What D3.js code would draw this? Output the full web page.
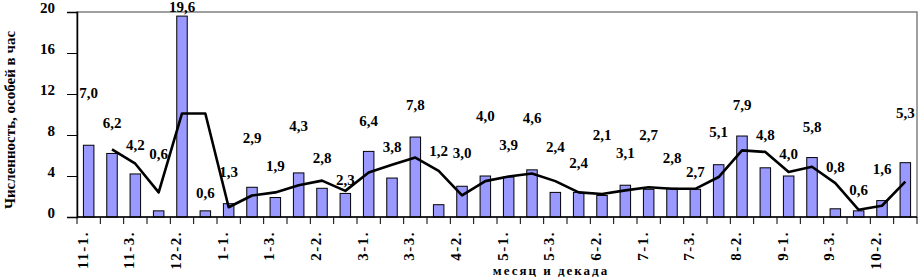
<!DOCTYPE html>
<html>
<head>
<meta charset="utf-8">
<script src="https://cdn.jsdelivr.net/npm/d3@7"></script>
<style>
  body { margin: 0; background: #fff; }
  text { font-family: "Liberation Serif", "Times New Roman", serif; font-weight: bold; fill: #000; }
</style>
</head>
<body>
<div id="chart"></div>
<script>
// decades of each month, Nov -> Oct
var categories = ["11-1", "11-2", "11-3", "12-1", "12-2", "12-3", "1-1", "1-2", "1-3",
  "2-1", "2-2", "2-3", "3-1", "3-2", "3-3", "4-1", "4-2", "4-3", "5-1", "5-2", "5-3",
  "6-1", "6-2", "6-3", "7-1", "7-2", "7-3", "8-1", "8-2", "8-3", "9-1", "9-2", "9-3",
  "10-1", "10-2", "10-3"];

var values = [7.0, 6.2, 4.2, 0.6, 19.6, 0.6, 1.3, 2.9, 1.9, 4.3, 2.8, 2.3, 6.4, 3.8, 7.8,
  1.2, 3.0, 4.0, 3.9, 4.6, 2.4, 2.4, 2.1, 3.1, 2.7, 2.8, 2.7, 5.1, 7.9, 4.8, 4.0, 5.8,
  0.8, 0.6, 1.6, 5.3];

// trend line (starts at the 2nd decade)
var trend = [null, 6.6, 5.2, 2.4, 10.1, 10.1, 0.95, 2.1, 2.4, 3.1, 3.55, 2.55, 4.35, 5.1,
  5.8, 4.5, 2.1, 3.5, 3.95, 4.25, 3.5, 2.4, 2.25, 2.6, 2.9, 2.75, 2.75, 3.9, 6.5, 6.35,
  4.4, 4.9, 3.3, 0.7, 1.1, 3.45];

// height (in axis units) where each value label sits
var labelLevel = [12.1, 9.2, 7.0, 6.1, 20.5, 2.3, 4.4, 7.7, 5.0, 8.9, 5.8, 3.6, 9.4, 6.8,
  10.9, 6.4, 6.2, 9.9, 7.0, 9.7, 6.8, 5.3, 8.0, 6.2, 8.0, 5.8, 4.4, 8.3, 10.9, 8.0, 6.1,
  8.8, 4.9, 2.6, 4.7, 10.1];

var yTicks = [0, 4, 8, 12, 16, 20];
var yTitle = "Численность, особей в час";
var xTitle = "месяц и декада";

(function () {
  var W = 919, H = 278;
  var pLeft = 77, pRight = 917, pTop = 12, pBottom = 217;

  var svg = d3.select("#chart").append("svg")
    .attr("width", W)
    .attr("height", H);

  var x = d3.scaleBand().domain(categories).range([pLeft, pRight])
    .paddingInner(0.55).paddingOuter(0.275);
  var step = (pRight - pLeft) / categories.length;
  var y = d3.scaleLinear().domain([0, 20]).range([pBottom, pTop]);

  function cx(i) { return x(categories[i]) + x.bandwidth() / 2; }

  // plot frame
  svg.append("rect")
    .attr("x", pLeft).attr("y", pTop)
    .attr("width", pRight - pLeft).attr("height", pBottom - pTop)
    .attr("fill", "none").attr("stroke", "#808080").attr("stroke-width", 1.5);

  // bars
  svg.selectAll("rect.bar").data(values).enter().append("rect")
    .attr("class", "bar")
    .attr("x", function (d, i) { return x(categories[i]); })
    .attr("y", function (d) { return y(d); })
    .attr("width", x.bandwidth())
    .attr("height", function (d) { return y(0) - y(d); })
    .attr("fill", "#9999ff")
    .attr("stroke", "#000")
    .attr("stroke-width", 1);

  // trend line
  var line = d3.line()
    .defined(function (d) { return d != null; })
    .x(function (d, i) { return cx(i); })
    .y(function (d) { return y(d); });

  svg.append("path")
    .datum(trend)
    .attr("d", line)
    .attr("fill", "none")
    .attr("stroke", "#000")
    .attr("stroke-width", 2.6)
    .attr("stroke-linejoin", "round");

  // value labels
  svg.selectAll("text.val").data(values).enter().append("text")
    .attr("class", "val")
    .attr("x", function (d, i) { return cx(i); })
    .attr("y", function (d, i) { return y(labelLevel[i]); })
    .attr("text-anchor", "middle")
    .attr("dominant-baseline", "central")
    .style("font-size", "15px")
    .text(function (d) { return d.toFixed(1).replace(".", ","); });

  // y axis
  var gY = svg.append("g")
    .attr("transform", "translate(" + pLeft + ",0)")
    .call(d3.axisLeft(y).tickValues(yTicks).tickSize(10).tickPadding(12));
  gY.select(".domain").attr("stroke", "#000").attr("stroke-width", 1.5);
  gY.selectAll(".tick line").attr("stroke", "#000");
  gY.selectAll(".tick text")
    .attr("dy", "0em")
    .style("font-size", "15px")
    .style("font-family", "'Liberation Serif', serif")
    .style("font-weight", "bold");

  // x axis: ticks at category boundaries
  var bounds = d3.range(categories.length + 1);
  svg.append("line")
    .attr("x1", pLeft).attr("x2", pRight)
    .attr("y1", pBottom).attr("y2", pBottom)
    .attr("stroke", "#000").attr("stroke-width", 1.5);
  svg.selectAll("line.xt").data(bounds).enter().append("line")
    .attr("class", "xt")
    .attr("x1", function (d) { return pLeft + d * step; })
    .attr("x2", function (d) { return pLeft + d * step; })
    .attr("y1", pBottom).attr("y2", pBottom + 7)
    .attr("stroke", "#000");

  svg.selectAll("text.xl").data(categories.filter(function (d, i) { return i % 2 === 0; }))
    .enter().append("text")
    .attr("class", "xl")
    .attr("transform", function (d) {
      return "translate(" + (x(d) + x.bandwidth() / 2 - 6) + "," + (pBottom + 14) + ") rotate(-90)";
    })
    .attr("text-anchor", "end")
    .attr("dominant-baseline", "central")
    .style("font-size", "15px")
    .style("letter-spacing", "1.5px")
    .text(function (d) { return d + "."; });

  // axis titles
  svg.append("text")
    .attr("transform", "translate(10,120) rotate(-90)")
    .attr("text-anchor", "middle")
    .attr("dominant-baseline", "central")
    .style("font-size", "15px")
    .text(yTitle);

  svg.append("text")
    .attr("x", 551).attr("y", 270)
    .attr("text-anchor", "middle")
    .attr("dominant-baseline", "central")
    .style("font-size", "13px")
    .style("letter-spacing", "2px")
    .text(xTitle);
})();
</script>
</body>
</html>
